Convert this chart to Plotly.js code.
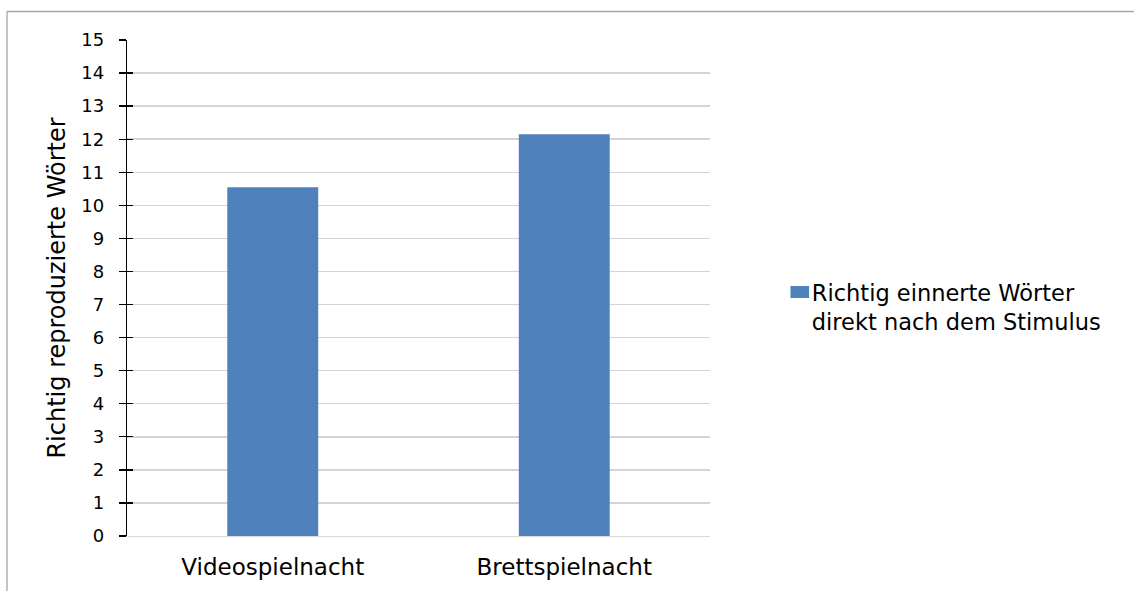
<!DOCTYPE html>
<html>
<head>
<meta charset="utf-8">
<script src="https://cdn.plot.ly/plotly-3.0.1.min.js"></script>
<style>
html,body{margin:0;padding:0;background:#fff;}
#chart{width:1134px;height:591px;}
</style>
</head>
<body>
<div id="chart"></div>
<script>
const categories = ["Videospielnacht", "Brettspielnacht"];
const values = [10.55, 12.15];
const seriesName = "Richtig einnerte Wörter<br>direkt nach dem Stimulus";
const yTitle = "Richtig reproduzierte Wörter";
const yTickVals = [0,1,2,3,4,5,6,7,8,9,10,11,12,13,14,15];

const FONT = "DejaVu Sans, Arial, sans-serif";

const traces = [{
  type: "bar",
  x: categories,
  y: values,
  name: seriesName,
  marker: {color: "#4f81bd"},
  showlegend: true,
  hoverinfo: "none"
}];

const layout = {
  width: 1134, height: 591,
  margin: {l: 127, r: 424, t: 40, b: 55, pad: 0},
  paper_bgcolor: "#fff", plot_bgcolor: "#fff",
  font: {family: FONT, color: "#000"},
  bargap: 0.688,
  showlegend: true,
  xaxis: {
    type: "category",
    range: [-0.5, 1.5],
    showgrid: false,
    showline: true, linecolor: "#d9d9d9", linewidth: 1.3,
    ticks: "", ticklabelstandoff: 10,
    tickfont: {family: FONT, size: 23, color: "#000"},
    zeroline: false, fixedrange: true
  },
  yaxis: {
    range: [0, 15],
    tickmode: "array", tickvals: yTickVals, ticktext: yTickVals.map(String),
    showgrid: true, gridcolor: "#d4d4d4", gridwidth: 1.5,
    zeroline: false,
    showline: true, linecolor: "#000", linewidth: 1.3,
    ticks: "outside", ticklen: 7, tickwidth: 1.3, tickcolor: "#000",
    ticklabelstandoff: 11,
    tickfont: {family: FONT, size: 18, color: "#000"},
    title: {text: yTitle, font: {family: FONT, size: 24, color: "#000"}, standoff: 8},
    fixedrange: true
  },
  yaxis2: {
    overlaying: "y", side: "left", matches: "y",
    range: [0, 15],
    tickmode: "array", tickvals: yTickVals, ticktext: yTickVals.map(() => ""),
    showgrid: false, zeroline: false, showline: false,
    ticks: "inside", ticklen: 6, tickwidth: 1.3, tickcolor: "#000",
    showticklabels: false, fixedrange: true
  },
  legend: {
    x: 1.106, xanchor: "left",
    y: 0.462, yanchor: "middle",
    valign: "top",
    itemwidth: 30,
    font: {family: FONT, size: 22.5, color: "#000"},
    bgcolor: "rgba(0,0,0,0)", borderwidth: 0
  },
  shapes: [
    {type: "line", xref: "paper", yref: "paper", x0: -0.2058, x1: -0.2058, y0: -0.3, y1: 1.0575, line: {color: "#a6a6a6", width: 1.3}},
    {type: "line", xref: "paper", yref: "paper", x0: -0.2058, x1: 1.9, y0: 1.0575, y1: 1.0575, line: {color: "#a6a6a6", width: 1.3}}
  ]
};

// invisible helper trace so the inner tick marks of yaxis2 are drawn
traces.push({type: "scatter", x: [categories[0]], y: [0], yaxis: "y2", mode: "markers", marker: {opacity: 0}, showlegend: false, hoverinfo: "skip"});

Plotly.newPlot("chart", traces, layout, {displayModeBar: false, staticPlot: true}).then(function () {
  // enlarge the legend swatch to match the reference's wider key
  document.querySelectorAll(".legend .legendpoints path").forEach(function (p) {
    p.setAttribute("transform", "translate(28,0) scale(1.55,1)");
  });
});
</script>
</body>
</html>
